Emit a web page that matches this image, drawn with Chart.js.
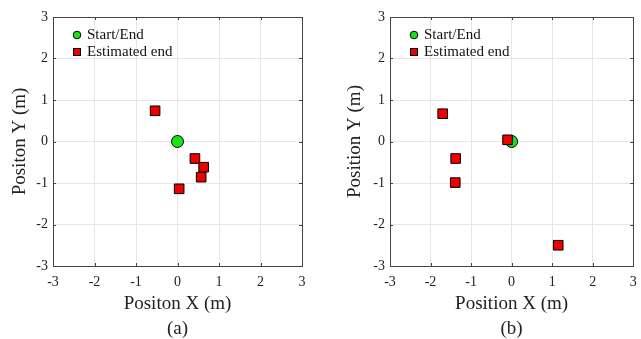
<!DOCTYPE html>
<html>
<head>
<meta charset="utf-8">
<script src="https://cdn.jsdelivr.net/npm/chart.js@4/dist/chart.umd.min.js"></script>
<style>
  html, body { margin: 0; padding: 0; background: #fff; }
  #wrap { position: relative; width: 641px; height: 339px; overflow: hidden; }
  .cell { position: absolute; top: 0; height: 339px; }
</style>
</head>
<body>
<div id="wrap">
  <div class="cell" style="left:0;width:320px"><canvas id="plotA" width="320" height="339"></canvas></div>
  <div class="cell" style="left:320px;width:321px"><canvas id="plotB" width="321" height="339"></canvas></div>
</div>
<script>
// values (metres)
var seriesNames = ['Start/End', 'Estimated end'];
var tickValues = [-3, -2, -1, 0, 1, 2, 3];
var tickLabels = ['-3', '-2', '-1', '0', '1', '2', '3'];

var startA = [{ x: 0, y: 0 }];
var estimatedA = [
	{ x: -0.54, y: 0.74 },
	{ x: 0.42, y: -0.41 },
	{ x: 0.63, y: -0.62 },
	{ x: 0.57, y: -0.86 },
	{ x: 0.04, y: -1.14 }
];

var startB = [{ x: 0, y: 0 }];
var estimatedB = [
	{ x: -1.70, y: 0.67 },
	{ x: -1.38, y: -0.41 },
	{ x: -1.39, y: -0.99 },
	{ x: -0.10, y: 0.04 },
	{ x: 1.15, y: -2.50 }
];

var serif = "'Liberation Serif', 'Times New Roman', serif";
var green = '#14e614';
var red = '#ee0000';
var frame = '#444444';

// box around the plot area, inward tick marks, legend inside the axes
var matlabBox = {
	id: 'matlabBox',
	afterDatasetsDraw: function(chart) {
		var ctx = chart.ctx;
		var a = chart.chartArea;
		var sx = chart.scales.x, sy = chart.scales.y;
		ctx.save();
		ctx.strokeStyle = frame;
		ctx.lineWidth = 1;
		ctx.strokeRect(Math.round(a.left) + 0.5, Math.round(a.top) + 0.5,
			Math.round(a.right - a.left), Math.round(a.bottom - a.top));
		ctx.beginPath();
		tickValues.forEach(function(v) {
			var px = Math.round(sx.getPixelForValue(v)) + 0.5;
			var py = Math.round(sy.getPixelForValue(v)) + 0.5;
			ctx.moveTo(px, a.bottom); ctx.lineTo(px, a.bottom - 3);
			ctx.moveTo(px, a.top); ctx.lineTo(px, a.top + 3);
			ctx.moveTo(a.left, py); ctx.lineTo(a.left + 3, py);
			ctx.moveTo(a.right, py); ctx.lineTo(a.right - 3, py);
		});
		ctx.stroke();

		// legend
		var lx = a.left + 24, ly = a.top + 18;
		ctx.fillStyle = green;
		ctx.strokeStyle = '#000';
		ctx.beginPath();
		ctx.arc(lx, ly, 3.8, 0, Math.PI * 2);
		ctx.fill(); ctx.stroke();
		ctx.fillStyle = red;
		ctx.fillRect(lx - 3.5, ly + 17 - 3.5, 7, 7);
		ctx.strokeRect(lx - 3.5, ly + 17 - 3.5, 7, 7);
		ctx.fillStyle = '#111';
		ctx.font = '15px ' + serif;
		ctx.textBaseline = 'middle';
		ctx.fillText(seriesNames[0], lx + 10, ly);
		ctx.fillText(seriesNames[1], lx + 10, ly + 17);
		ctx.restore();
	}
};

function makePlot(id, start, estimated, xTitle, yTitle, letter, yWidth, padRight, yTitlePad) {
	var ctx = document.getElementById(id).getContext('2d');
	return new Chart(ctx, {
		type: 'scatter',
		data: {
			datasets: [{
				label: seriesNames[0],
				data: start,
				order: 1,
				pointStyle: 'circle',
				pointRadius: 6,
				pointBackgroundColor: green,
				pointBorderColor: '#000',
				pointBorderWidth: 1
			}, {
				label: seriesNames[1],
				data: estimated,
				order: 0,
				pointStyle: 'rect',
				pointRadius: 6.8,
				pointBackgroundColor: red,
				pointBorderColor: '#000',
				pointBorderWidth: 1
			}]
		},
		options: {
			responsive: false,
			animation: false,
			events: [],
			layout: { padding: { top: 17, right: padRight, left: 0, bottom: 0 } },
			plugins: { legend: { display: false }, tooltip: { enabled: false } },
			scales: {
				x: {
					type: 'linear', min: -3, max: 3,
					afterBuildTicks: function(s) { s.ticks = tickValues.map(function(v) { return { value: v }; }); },
					afterFit: function(s) { s.height = 73; s.paddingLeft = 0; s.paddingRight = 0; },
					grid: { color: '#e6e6e6', drawTicks: false },
					border: { display: false },
					ticks: {
						padding: 8, color: '#222', font: { family: serif, size: 14 },
						maxRotation: 0,
						callback: function(v, i) { return tickLabels[i]; }
					},
					title: {
						display: true, text: [xTitle, letter], color: '#222',
						font: { family: serif, size: 19, lineHeight: 1.3 },
						padding: { top: 0, bottom: -2.5 }
					}
				},
				y: {
					type: 'linear', min: -3, max: 3,
					afterBuildTicks: function(s) { s.ticks = tickValues.map(function(v) { return { value: v }; }); },
					afterFit: function(s) { s.width = yWidth; s.paddingTop = 0; s.paddingBottom = 0; },
					grid: { color: '#e6e6e6', drawTicks: false },
					border: { display: false },
					ticks: {
						padding: 5, color: '#222', font: { family: serif, size: 14 },
						callback: function(v, i) { return tickLabels[i]; }
					},
					title: {
						display: true, text: yTitle, color: '#222',
						font: { family: serif, size: 19, lineHeight: 1.3 },
						padding: { top: yTitlePad, bottom: 0 }
					}
				}
			}
		},
		plugins: [matlabBox]
	});
}

makePlot('plotA', startA, estimatedA, 'Positon X (m)', 'Positon Y (m)', '(a)', 53, 18, 7.6);
makePlot('plotB', startB, estimatedB, 'Position X (m)', 'Position Y (m)', '(b)', 70, 1, 22.6);
</script>
</body>
</html>
